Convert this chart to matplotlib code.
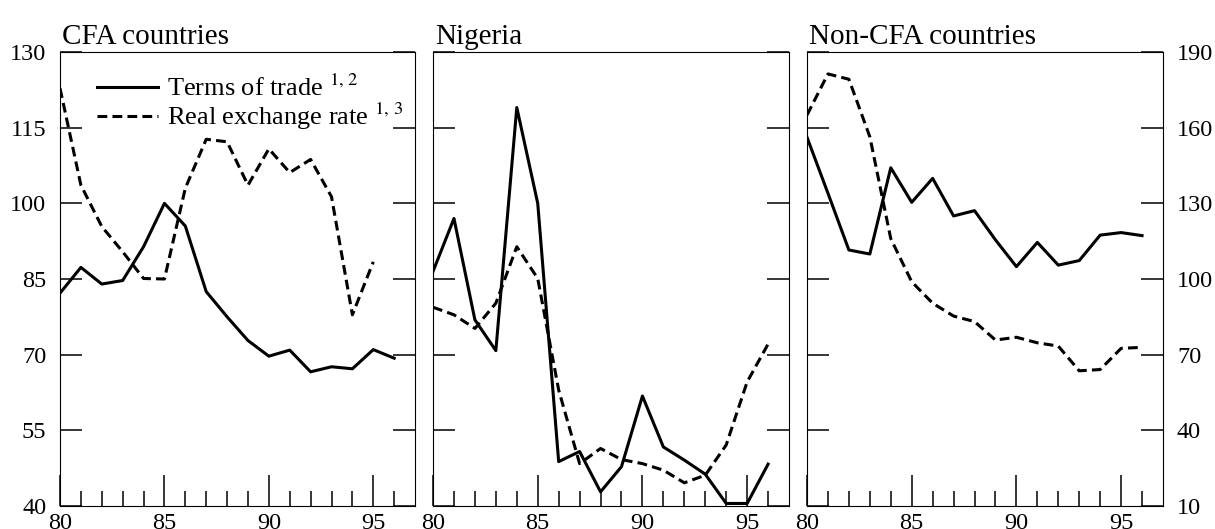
"""Terms of trade and real exchange rate: CFA, Nigeria, non-CFA countries."""
import matplotlib
matplotlib.use('Agg')
import matplotlib.pyplot as plt
from matplotlib.ticker import FixedLocator

plt.rcParams['font.family'] = ['Liberation Serif', 'DejaVu Serif']
plt.rcParams['mathtext.fontset'] = 'stix'

YEARS = list(range(80, 97))

# CFA countries (left scale)
cfa_tot = [82.2, 87.3, 84.0, 84.7, 91.4, 100.0, 95.5, 82.5, 77.5, 72.8,
           69.7, 70.9, 66.6, 67.6, 67.2, 71.0, 69.3]
cfa_rer = [122.8, 103.6, 95.4, 90.4, 85.1, 85.0, 103.0, 112.7, 112.2, 103.6,
           110.8, 106.1, 108.7, 101.3, 77.9, 88.4]   # ends 1995

# Nigeria (left scale)
nga_tot = [86.5, 97.0, 76.9, 70.8, 119.0, 100.0, 48.8, 50.8, 42.8, 47.8,
           61.8, 51.7, 49.1, 46.3, 40.5, 40.5, 48.3]
nga_rer = [79.4, 77.9, 75.2, 80.2, 91.4, 85.1, 63.0, 48.4, 51.4, 49.2,
           48.4, 47.1, 44.6, 46.1, 52.1, 64.6, 72.1]

# Non-CFA countries (right scale)
ncfa_tot = [156.2, 134.0, 111.5, 109.9, 144.1, 130.4, 139.9, 125.0, 127.1, 115.5,
            104.9, 114.5, 105.5, 107.3, 117.4, 118.4, 117.2]
ncfa_rer = [165.0, 181.3, 179.2, 156.4, 116.0, 98.9, 90.4, 85.3, 83.1, 75.8,
            76.9, 74.7, 73.4, 63.6, 64.1, 72.5, 72.9]

LEFT_TICKS = [40, 55, 70, 85, 100, 115, 130]
RIGHT_TICKS = [10, 40, 70, 100, 130, 160, 190]
X_LABELS = ['80', '85', '90', '95']

LW = 2.2
DASH = (3.2, 1.7)
FS = 17.5


def style_axis(ax, yticks, ylim, side):
    ax.set_xlim(80, 97)
    ax.set_ylim(*ylim)
    ax.set_yticks(yticks)
    ax.xaxis.set_major_locator(FixedLocator([80, 85, 90, 95]))
    ax.set_xticklabels(X_LABELS)
    ax.xaxis.set_minor_locator(FixedLocator([y for y in YEARS if y % 5]))
    ax.tick_params(axis='x', which='major', direction='in', length=22, width=1.1,
                   top=False, labelsize=FS, pad=5)
    ax.tick_params(axis='x', which='minor', direction='in', length=11, width=1.1,
                   top=False)
    ax.tick_params(axis='y', direction='in', length=16, width=1.1,
                   left=True, right=True, labelsize=FS, pad=10,
                   labelleft=(side == 'left'), labelright=(side == 'right'))
    for s in ax.spines.values():
        s.set_linewidth(0.8)


fig = plt.figure(figsize=(12.15, 5.29), dpi=100)
H = 0.8582
B = 0.0435
ax1 = fig.add_axes([0.0494, B, 0.2922, H])
ax2 = fig.add_axes([0.3564, B, 0.2930, H])
ax3 = fig.add_axes([0.6642, B, 0.2930, H])

ax1.plot(YEARS, cfa_tot, color='black', lw=LW, label='Terms of trade $^{1,\\,2}$')
ax1.plot(YEARS[:len(cfa_rer)], cfa_rer, color='black', lw=LW, dashes=DASH,
         label='Real exchange rate $^{1,\\,3}$')
ax2.plot(YEARS, nga_tot, color='black', lw=LW)
ax2.plot(YEARS, nga_rer, color='black', lw=LW, dashes=DASH)
ax3.plot(YEARS, ncfa_tot, color='black', lw=LW)
ax3.plot(YEARS, ncfa_rer, color='black', lw=LW, dashes=DASH)

style_axis(ax1, LEFT_TICKS, (40, 130), 'left')
style_axis(ax2, LEFT_TICKS, (40, 130), 'none')
style_axis(ax3, RIGHT_TICKS, (10, 190), 'right')

for ax, title in [(ax1, 'CFA countries'), (ax2, 'Nigeria'), (ax3, 'Non-CFA countries')]:
    ax.set_title(title, loc='left', fontsize=21, pad=6, x=0.005)

ax1.legend(loc='upper left', bbox_to_anchor=(0.06, 0.985), frameon=False,
           fontsize=19, handlelength=2.3, handletextpad=0.35, labelspacing=0.0,
           borderaxespad=0.2)

fig.savefig('out.png', dpi=100)
